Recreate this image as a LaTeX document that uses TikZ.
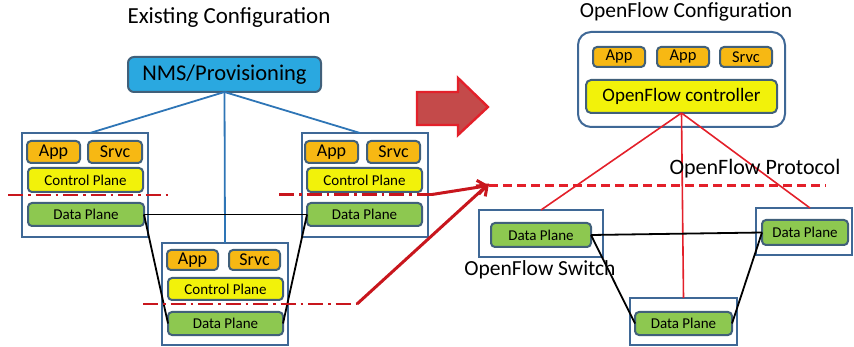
\documentclass[tikz,border=0pt]{standalone}
\usepackage{fontspec}
\setmainfont{Carlito}
\usetikzlibrary{arrows.meta}
\definecolor{orfill}{HTML}{F7B813}
\definecolor{yefill}{HTML}{F2F20A}
\definecolor{grfill}{HTML}{8DC850}
\definecolor{inbord}{HTML}{41607A}
\definecolor{outbord}{HTML}{3F6896}
\definecolor{nmsfill}{HTML}{2AA8E0}
\definecolor{blueline}{HTML}{2E75B6}
\definecolor{dred}{HTML}{C8161D}
\definecolor{bred}{HTML}{E3202A}
\definecolor{arrfill}{HTML}{C44A4A}
\tikzset{
  inner/.style={draw=inbord, line width=2pt, rounded corners=4pt, inner sep=0pt, outer sep=0pt},
  appbox/.style={inner, fill=orfill, font=\fontsize{18}{20}\selectfont},
  cpbox/.style={inner, fill=yefill, font=\fontsize{15}{18}\selectfont},
  dpbox/.style={inner, fill=grfill, font=\fontsize{15}{18}\selectfont},
  outerbox/.style={draw=outbord, line width=2pt, inner sep=0pt, outer sep=0pt},
  title/.style={anchor=base, inner sep=0pt},
  blueconn/.style={draw=blueline, line width=1.8pt},
  blackconn/.style={draw=black, line width=1.8pt},
  redconn/.style={draw=bred, line width=1.6pt},
  dashdot/.style={draw=dred, line width=2.5pt, dash pattern=on 15pt off 5pt on 2.5pt off 5pt},
  thickarrow/.style={draw=dred, line width=3pt, -{Straight Barb[length=9pt,width=14pt,line width=3pt]}},
}
\begin{document}
\begin{tikzpicture}[x=1pt,y=-1pt]
\useasboundingbox (0,0) rectangle (854,347);

% ---------- Existing configuration ----------
\node[title, font=\fontsize{23}{26}\selectfont] (t1) at (229,23.5) {Existing Configuration};
\node[inner, draw=inbord, fill=nmsfill, rounded corners=6pt, minimum width=193pt, minimum height=35pt,
      font=\fontsize{22.5}{26}\selectfont] (nms) at (224.5,74.5) {NMS/Provisioning};

% left switch
\node[outerbox, minimum width=126pt, minimum height=104pt] (L) at (85,185) {};
\node[appbox, minimum width=53pt, minimum height=22pt] (LA) at (53.5,152) {App};
\node[appbox, minimum width=54pt, minimum height=22pt] (LS) at (115,152) {Srvc};
\node[cpbox, minimum width=115pt, minimum height=24pt] (LC) at (85.5,180) {Control Plane};
\node[dpbox, minimum width=116pt, minimum height=23pt] (LD) at (86,214.5) {Data Plane};

% right switch
\node[outerbox, minimum width=126pt, minimum height=104pt] (R) at (365,185) {};
\node[appbox, minimum width=53pt, minimum height=22pt] (RA) at (331.5,152) {App};
\node[appbox, minimum width=53pt, minimum height=22pt] (RS) at (393.5,152) {Srvc};
\node[cpbox, minimum width=115pt, minimum height=24pt] (RC) at (364.5,180) {Control Plane};
\node[dpbox, minimum width=115pt, minimum height=23pt] (RD) at (364.5,214.5) {Data Plane};

% middle switch
\node[outerbox, minimum width=126pt, minimum height=102pt] (M) at (225,294) {};
\node[appbox, minimum width=51pt, minimum height=20pt] (MA) at (192.5,260) {App};
\node[appbox, minimum width=51pt, minimum height=20pt] (MS) at (254.5,260) {Srvc};
\node[cpbox, minimum width=115pt, minimum height=22pt] (MC) at (225.5,289) {Control Plane};
\node[dpbox, minimum width=115pt, minimum height=23pt] (MD) at (225.5,323.5) {Data Plane};

% NMS connectors
\draw[blueconn] (nms.south) -- ([xshift=5pt]L.north);
\draw[blueconn] (nms.south) -- ([xshift=-5pt]R.north);
\draw[blueconn] (nms.south) -- (M.north);

% data plane links
\draw[blackconn] (LD.east) -- (RD.west);
\draw[blackconn] (LD.east) -- (MD.west);
\draw[blackconn] (RD.west) -- (MD.east);

% dash-dot separators
\coordinate (lsa) at (8,195);
\coordinate (lsb) at (172,195);
\coordinate (rsa) at (279,194.5);
\coordinate (rsb) at (432,194.5);
\coordinate (msa) at (143,304);
\coordinate (msb) at (357,304);
\draw[dashdot] (lsa) -- (lsb);
\draw[dashdot] (rsa) -- (rsb);
\draw[dashdot] (msa) -- (msb);

% big arrow
\draw[draw=bred, fill=arrfill, line width=2.4pt, line join=miter]
  (417,92) -- (458,92) -- (458,78) -- (488,107) -- (458,135) -- (458,125) -- (417,125) -- cycle;

% ---------- OpenFlow configuration ----------
\node[title, font=\fontsize{21.5}{24}\selectfont] (t2) at (686,18) {OpenFlow Configuration};
\node[outerbox, rounded corners=13pt, minimum width=207pt, minimum height=95pt] (C) at (681.5,79.5) {};
\node[appbox, font=\fontsize{16.5}{19}\selectfont, minimum width=52pt, minimum height=20pt] (CA1) at (619,57) {App};
\node[appbox, font=\fontsize{16.5}{19}\selectfont, minimum width=52pt, minimum height=20pt] (CA2) at (683,57) {App};
\node[appbox, font=\fontsize{16.5}{19}\selectfont, minimum width=52pt, minimum height=20pt] (CS) at (746,57) {Srvc};
\node[cpbox, font=\fontsize{19}{22}\selectfont, rounded corners=5pt, minimum width=191pt, minimum height=33pt] (OFC) at (681.5,96.5) {OpenFlow controller};

% OpenFlow switches
\node[outerbox, minimum width=124pt, minimum height=47pt] (SL) at (541,233.5) {};
\node[dpbox, minimum width=100pt, minimum height=24pt] (SLD) at (541,235) {Data Plane};
\node[outerbox, minimum width=96pt, minimum height=47pt] (SR) at (804,231.5) {};
\node[dpbox, minimum width=86pt, minimum height=25pt] (SRD) at (805,232.5) {Data Plane};
\node[outerbox, minimum width=107pt, minimum height=47pt] (SM) at (683.5,321.5) {};
\node[dpbox, minimum width=97pt, minimum height=23pt] (SMD) at (683.5,323.5) {Data Plane};

\node[title, font=\fontsize{21.5}{24}\selectfont] (tsw) at (540,275.5) {OpenFlow Switch};

% protocol dashed line
\coordinate (pa) at (489,185.5);
\coordinate (pb) at (826,185.5);
\draw[draw=bred, line width=3pt, dash pattern=on 9pt off 5pt] (pa) -- (pb);

% controller links
\draw[redconn] (OFC.south) -- (SL.north);
\draw[redconn] (OFC.south) -- (SM.north);
\draw[redconn] (OFC.south) -- ([xshift=6pt]SR.north);

\node[title, font=\fontsize{22}{25}\selectfont] (tprot) at (755,174.5) {OpenFlow Protocol};

% data plane links
\draw[blackconn] (SLD.east) -- (SRD.west);
\draw[blackconn] (SLD.east) -- (SMD.west);
\draw[blackconn] (SRD.west) -- (SMD.east);

% thick red arrows
\draw[thickarrow] (rsb) -- (pa);
\draw[thickarrow] (msb) -- ([yshift=2pt]pa);
\end{tikzpicture}
\end{document}
